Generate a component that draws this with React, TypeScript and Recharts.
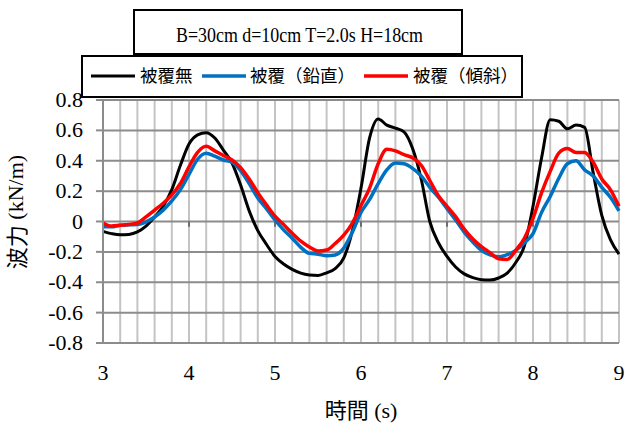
import { LineChart, Line, XAxis, YAxis, CartesianGrid, ReferenceLine } from "recharts";

const times = [
  3.0, 3.1, 3.2, 3.3, 3.4, 3.5, 3.6, 3.7, 3.8, 3.9,
  4.0, 4.1, 4.2, 4.3, 4.4, 4.5, 4.6, 4.7, 4.8, 4.9,
  5.0, 5.1, 5.2, 5.3, 5.4, 5.5, 5.6, 5.7, 5.8, 5.9,
  6.0, 6.1, 6.2, 6.3, 6.4, 6.5, 6.6, 6.7, 6.8, 6.9,
  7.0, 7.1, 7.2, 7.3, 7.4, 7.5, 7.6, 7.7, 7.8, 7.9,
  8.0, 8.1, 8.2, 8.3, 8.4, 8.5, 8.6, 8.7, 8.8, 8.9,
  9.0,
];

// 被覆無
const bare = [
  -0.065, -0.08, -0.088, -0.085, -0.068, -0.03, 0.03, 0.1, 0.21, 0.37,
  0.51, 0.57, 0.585, 0.55, 0.47, 0.385, 0.24, 0.07, -0.06, -0.15,
  -0.23, -0.28, -0.315, -0.34, -0.352, -0.355, -0.338, -0.31, -0.24, -0.06,
  0.22, 0.55, 0.675, 0.635, 0.615, 0.59, 0.48, 0.28, 0.0, -0.14,
  -0.23, -0.3, -0.345, -0.37, -0.383, -0.386, -0.372, -0.34, -0.27, -0.16,
  0.1, 0.42, 0.67, 0.66, 0.61, 0.635, 0.62, 0.32, 0.04, -0.12,
  -0.215,
];

// 被覆（鉛直）
const vertical = [
  -0.035, -0.035, -0.025, -0.022, -0.02, -0.002, 0.03, 0.075, 0.135, 0.21,
  0.31, 0.41, 0.45, 0.43, 0.405, 0.39, 0.335, 0.25, 0.155, 0.085,
  0.01, -0.055, -0.11, -0.17, -0.21, -0.215, -0.225, -0.22, -0.175, -0.07,
  0.06, 0.145, 0.25, 0.34, 0.385, 0.38, 0.35, 0.3, 0.225, 0.16,
  0.085, 0.01, -0.07, -0.135, -0.19, -0.22, -0.232, -0.218, -0.19, -0.14,
  -0.08, 0.06, 0.165, 0.285, 0.38, 0.4, 0.34, 0.3, 0.225, 0.16,
  0.07,
];

// 被覆（傾斜）
const sloped = [
  -0.01, -0.03, -0.025, -0.02, -0.01, 0.03, 0.075, 0.12, 0.175, 0.25,
  0.36, 0.455, 0.495, 0.465, 0.435, 0.405, 0.355, 0.28, 0.19, 0.11,
  0.035, -0.02, -0.078, -0.13, -0.168, -0.195, -0.188, -0.145, -0.09, -0.01,
  0.105, 0.22, 0.38, 0.475, 0.465, 0.44, 0.42, 0.37, 0.27, 0.17,
  0.1, 0.032, -0.05, -0.115, -0.165, -0.205, -0.245, -0.25, -0.19, -0.11,
  0.02, 0.19, 0.33, 0.45, 0.48, 0.455, 0.455, 0.39, 0.28, 0.21,
  0.1,
];

const xTicks = [
  3, 3.2, 3.4, 3.6, 3.8, 4, 4.2, 4.4, 4.6, 4.8, 5, 5.2, 5.4, 5.6, 5.8, 6,
  6.2, 6.4, 6.6, 6.8, 7, 7.2, 7.4, 7.6, 7.8, 8, 8.2, 8.4, 8.6, 8.8, 9,
];
const xMajor = [4, 5, 6, 7, 8];
const yTicks = [-0.8, -0.6, -0.4, -0.2, 0, 0.2, 0.4, 0.6, 0.8];

const series = [
  { key: "bare", name: "被覆無", color: "#000000", width: 3 },
  { key: "vertical", name: "被覆（鉛直）", color: "#0070C0", width: 3.5 },
  { key: "sloped", name: "被覆（傾斜）", color: "#FF0000", width: 3.5 },
];

const data = times.map((t, i) => ({
  t,
  bare: bare[i],
  vertical: vertical[i],
  sloped: sloped[i],
}));

const serif = "Liberation Serif";
const cjk = "Noto Sans CJK JP";

// legend item positions (line start, text start)
const legendPos = [
  { x: 91, tx: 140 },
  { x: 202, tx: 250 },
  { x: 364, tx: 413 },
];

const XTick = (props: any) => {
  const v = props.payload.value;
  if (v % 1 !== 0) return null;
  return (
    <text x={props.x} y={380} textAnchor="middle" fontSize={22} fontFamily={serif} fill="#000">
      {v}
    </text>
  );
};

const YTick = (props: any) => {
  const v = props.payload.value;
  return (
    <text x={83} y={props.y + 7} textAnchor="end" fontSize={22} fontFamily={serif} fill="#000">
      {v === 0 ? "0" : v.toFixed(1)}
    </text>
  );
};

export default function App() {
  return (
    <div
      style={{
        position: "absolute",
        left: 0,
        top: 0,
        width: 625,
        height: 424,
        background: "#fff",
      }}
    >
      <LineChart
        width={625}
        height={424}
        data={data}
        margin={{ top: 100, right: 6, bottom: 51, left: 43 }}
      >
        <CartesianGrid horizontal={false} stroke="#c4c4c4" strokeWidth={2} />
        <CartesianGrid vertical={false} stroke="#8c8c8c" strokeWidth={2} />
        <XAxis
          dataKey="t"
          type="number"
          domain={[3, 9]}
          ticks={xTicks}
          interval={0}
          height={30}
          tickLine={false}
          axisLine={{ stroke: "#8c8c8c", strokeWidth: 2 }}
          tick={<XTick />}
        />
        <YAxis
          type="number"
          domain={[-0.8, 0.8]}
          ticks={yTicks}
          interval={0}
          width={60}
          tickSize={7}
          tickLine={{ stroke: "#8c8c8c", strokeWidth: 2 }}
          axisLine={{ stroke: "#8c8c8c", strokeWidth: 2 }}
          tick={<YTick />}
        />
        {/* small major tick marks on the zero line */}
        {xMajor.map((x) => (
          <ReferenceLine
            key={x}
            segment={[
              { x, y: 0 },
              { x, y: -0.035 },
            ]}
            stroke="#6e6e6e"
            strokeWidth={2}
            ifOverflow="visible"
          />
        ))}
        {series.map((s) => (
          <Line
            key={s.key}
            dataKey={s.key}
            name={s.name}
            type="monotone"
            stroke={s.color}
            strokeWidth={s.width}
            dot={false}
            isAnimationActive={false}
          />
        ))}
      </LineChart>

      <svg
        width={625}
        height={424}
        style={{ position: "absolute", left: 0, top: 0, pointerEvents: "none" }}
      >
        {/* title box */}
        <rect x={134} y={10} width={328} height={44} fill="#fff" stroke="#000" strokeWidth={2} />
        <text
          x={176}
          y={42}
          fontSize={20}
          fontFamily={serif}
          textLength={247}
          lengthAdjust="spacingAndGlyphs"
        >
          B=30cm d=10cm T=2.0s H=18cm
        </text>

        {/* legend box */}
        <rect x={82} y={56} width={440} height={41} fill="#fff" stroke="#000" strokeWidth={2} />
        {series.map((s, i) => (
          <g key={s.key}>
            <line
              x1={legendPos[i].x}
              x2={legendPos[i].x + 44}
              y1={76}
              y2={76}
              stroke={s.color}
              strokeWidth={s.width}
            />
            <text x={legendPos[i].tx} y={82} fontSize={17.5} fontFamily={cjk}>
              {s.name}
            </text>
          </g>
        ))}

        {/* axis titles */}
        <text
          x={15}
          y={212}
          fontSize={22}
          textAnchor="middle"
          dominantBaseline="central"
          transform="rotate(-90, 15, 212)"
        >
          <tspan fontFamily={cjk}>波力</tspan>
          <tspan fontFamily={serif}> (kN/m)</tspan>
        </text>
        <text x={361} y={418} fontSize={22} textAnchor="middle">
          <tspan fontFamily={cjk}>時間</tspan>
          <tspan fontFamily={serif}> (s)</tspan>
        </text>
      </svg>
    </div>
  );
}
